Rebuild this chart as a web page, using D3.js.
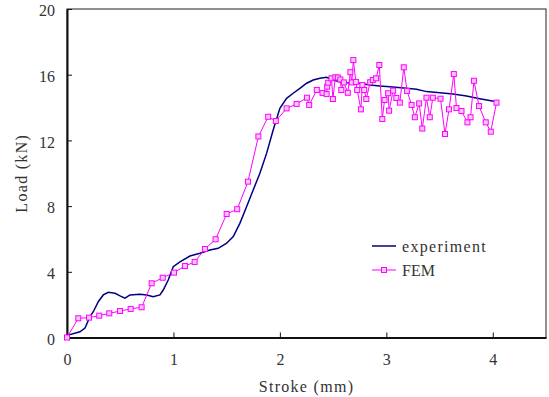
<!DOCTYPE html>
<html>
<head>
<meta charset="utf-8">
<script src="https://cdn.jsdelivr.net/npm/d3@7"></script>
<style>
  body { margin: 0; background: #fff; }
</style>
</head>
<body>
<svg id="chart" width="549" height="397"></svg>
<script>
// experiment curve (stroke mm, load kN)
const expX = [0, 0.012, 0.122, 0.169, 0.216, 0.247, 0.294, 0.341, 0.388, 0.451, 0.498, 0.545, 0.592, 0.685, 0.748, 0.810, 0.873, 0.904, 0.951, 0.998,
  1.061, 1.155, 1.249, 1.343, 1.421, 1.500, 1.562, 1.624, 1.687, 1.749, 1.812, 1.875, 1.937, 2.000, 2.063, 2.125, 2.188, 2.251, 2.313, 2.376,
  2.438, 2.500, 2.563, 2.626, 2.751, 2.845, 2.939, 3.033, 3.190, 3.284, 3.377, 3.502, 3.627, 3.753, 3.878, 4.035];
const expY = [0, 0.15, 0.35, 0.58, 1.27, 1.57, 2.18, 2.59, 2.75, 2.69, 2.53, 2.39, 2.59, 2.63, 2.59, 2.48, 2.59, 2.89, 3.50, 4.31,
  4.61, 4.96, 5.13, 5.33, 5.43, 5.74, 6.14, 6.95, 7.96, 8.98, 10.00, 11.21, 12.63, 13.95, 14.56, 14.87, 15.17, 15.48, 15.68, 15.78,
  15.84, 15.68, 15.57, 15.51, 15.48, 15.37, 15.31, 15.27, 15.17, 15.11, 14.97, 14.90, 14.82, 14.70, 14.54, 14.36];

// FEM result
const femX = [0, 0.106, 0.207, 0.303, 0.397, 0.498, 0.598, 0.701, 0.795, 0.899, 1.005, 1.108, 1.199, 1.296, 1.396, 1.500, 1.599, 1.700, 1.798, 1.890,
  1.962, 2.063, 2.157, 2.254, 2.275, 2.347, 2.401, 2.439, 2.444, 2.454, 2.485, 2.498, 2.521, 2.545, 2.568, 2.577, 2.601, 2.638, 2.662, 2.676,
  2.690, 2.714, 2.726, 2.761, 2.775, 2.792, 2.812, 2.848, 2.873, 2.904, 2.934, 2.962, 2.983, 3.017, 3.026, 3.064, 3.094, 3.127, 3.164, 3.195,
  3.237, 3.268, 3.308, 3.338, 3.377, 3.408, 3.437, 3.509, 3.551, 3.589, 3.634, 3.659, 3.706, 3.762, 3.791, 3.823, 3.871, 3.934, 3.981, 4.035];
const femY = [0, 1.17, 1.21, 1.33, 1.47, 1.61, 1.74, 1.84, 3.30, 3.64, 3.95, 4.35, 4.60, 5.39, 5.98, 7.52, 7.81, 9.49, 12.24, 13.44,
  13.18, 13.95, 14.22, 14.60, 14.16, 15.07, 14.89, 14.82, 15.27, 15.51, 15.78, 14.52, 15.84, 15.83, 15.71, 15.07, 15.53, 14.90, 16.15, 15.53,
  16.89, 15.56, 15.07, 13.89, 15.37, 15.07, 14.52, 15.54, 15.68, 15.78, 16.59, 13.30, 14.46, 14.87, 13.81, 15.03, 14.58, 14.30, 16.45, 15.01,
  14.16, 13.41, 14.25, 12.72, 14.60, 13.41, 14.60, 14.54, 12.39, 13.89, 16.04, 13.97, 13.79, 13.10, 13.41, 15.63, 14.09, 13.10, 12.53, 14.30];

const xTicks = [0, 1, 2, 3, 4];
const yTicks = [0, 4, 8, 12, 16, 20];
const seriesNames = ["experiment", "FEM"];

const svg = d3.select("#chart");
const m = {left: 67, right: 546, top: 9, bottom: 337.5};

const x = d3.scaleLinear().domain([0, 4.5]).range([m.left, m.right]);
const y = d3.scaleLinear().domain([0, 20]).range([m.bottom, m.top]);

const serif = "'Liberation Serif', 'Times New Roman', serif";

// frame (top + right)
svg.append("rect")
  .attr("x", m.left).attr("y", m.top)
  .attr("width", m.right - m.left).attr("height", m.bottom - m.top)
  .attr("fill", "none").attr("stroke", "#222").attr("stroke-width", 1);

const xAxis = svg.append("g")
  .attr("transform", `translate(0,${m.bottom})`)
  .call(d3.axisBottom(x).tickValues(xTicks).tickSizeInner(-5).tickSizeOuter(0).tickPadding(13).tickFormat(d3.format("d")));
const yAxis = svg.append("g")
  .attr("transform", `translate(${m.left},0)`)
  .call(d3.axisLeft(y).tickValues(yTicks).tickSizeInner(-5).tickSizeOuter(0).tickPadding(12).tickFormat(d3.format("d")));

[xAxis, yAxis].forEach(g => {
  g.select(".domain").attr("stroke", "#111").attr("stroke-width", 2);
  g.selectAll(".tick line").attr("stroke", "#111").attr("stroke-width", 1);
  g.selectAll(".tick text").attr("fill", "#333").style("font", `16px ${serif}`);
});
xAxis.selectAll(".tick text").attr("dy", "0.9em");
yAxis.selectAll(".tick text").attr("dy", "0.42em");

// axis titles
svg.append("text")
  .attr("x", (m.left + m.right) / 2).attr("y", 392)
  .attr("text-anchor", "middle").attr("fill", "#333")
  .style("font", `16px ${serif}`).style("letter-spacing", "1.3px")
  .text("Stroke (mm)");
svg.append("text")
  .attr("transform", `translate(27,${(m.top + m.bottom) / 2}) rotate(-90)`)
  .attr("text-anchor", "middle").attr("fill", "#333")
  .style("font", `16px ${serif}`).style("letter-spacing", "1.3px")
  .text("Load (kN)");

const line = d3.line().x(d => x(d[0])).y(d => y(d[1]));
const expData = expX.map((v, i) => [v, expY[i]]);
const femData = femX.map((v, i) => [v, femY[i]]);

svg.append("path").datum(expData)
  .attr("d", line).attr("fill", "none")
  .attr("stroke", "#000080").attr("stroke-width", 1.5);

svg.append("path").datum(femData)
  .attr("d", line).attr("fill", "none")
  .attr("stroke", "#ff00ff").attr("stroke-width", 1);

svg.append("g").selectAll("rect").data(femData).join("rect")
  .attr("x", d => x(d[0]) - 2.5).attr("y", d => y(d[1]) - 2.5)
  .attr("width", 5).attr("height", 5)
  .attr("fill", "#fcc8fc").attr("stroke", "#ff00ff").attr("stroke-width", 1);

// legend
const leg = svg.append("g").attr("transform", "translate(372,246)");
const colors = ["#000080", "#ff00ff"];
seriesNames.forEach((name, i) => {
  const g = leg.append("g").attr("transform", `translate(0,${i * 24})`);
  g.append("line").attr("x1", 0).attr("x2", 24).attr("y1", 0).attr("y2", 0)
    .attr("stroke", colors[i]).attr("stroke-width", i === 0 ? 1.5 : 1);
  if (i === 1) {
    g.append("rect").attr("x", 9.5).attr("y", -2.5).attr("width", 5).attr("height", 5)
      .attr("fill", "#fcc8fc").attr("stroke", "#ff00ff").attr("stroke-width", 1);
  }
  g.append("text").attr("x", 30).attr("y", 0).attr("dy", "0.35em")
    .attr("fill", "#333")
    .style("font", `16px ${serif}`).style("letter-spacing", i === 0 ? "1.3px" : "0px")
    .text(name);
});
</script>
</body>
</html>
